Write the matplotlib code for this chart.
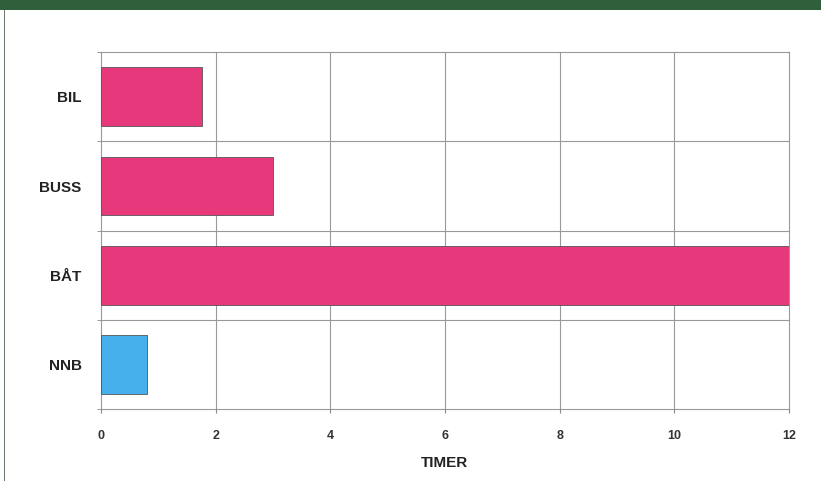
import matplotlib.pyplot as plt
from matplotlib.patches import Rectangle

categories = ["BIL", "BUSS", "BÅT", "NNB"]
hours = [1.76, 3.0, 12.0, 0.8]
colors = ["#e8387c", "#e8387c", "#e8387c", "#45b0ec"]
xticks = [0, 2, 4, 6, 8, 10, 12]

plt.rcParams["font.family"] = ["Liberation Sans", "DejaVu Sans"]

fig = plt.figure(figsize=(8.21, 4.96), dpi=100)
fig.patch.set_facecolor("white")

# green band on top and thin frame on the left
fig.add_artist(Rectangle((0, 0.98), 1, 0.02, transform=fig.transFigure,
                         facecolor="#2f5f3b", edgecolor="none"))
fig.add_artist(Rectangle((0.005, 0.03), 0.0015, 0.95, transform=fig.transFigure,
                         facecolor="#6a7a6a", edgecolor="none"))

ax = fig.add_axes([0.123, 0.175, 0.838, 0.72])
ypos = list(range(len(categories)))
ax.barh(ypos, hours, height=0.66, color=colors, edgecolor="#555555", linewidth=0.6,
        zorder=3)

ax.set_xlim(0, 12)
ax.set_ylim(len(categories) - 0.5, -0.5)
ax.set_xticks(xticks)
ax.set_xticklabels([str(t) for t in xticks], fontsize=9, fontweight="bold", color="#333333")
ax.set_yticks(ypos)
ax.set_yticklabels(categories, fontsize=11, fontweight="bold", color="#222222")
ax.tick_params(axis="y", length=0, pad=14)
ax.tick_params(axis="x", length=3, color="#888888", pad=12)

edges = [y - 0.5 for y in ypos] + [len(categories) - 0.5]
ax.set_yticks(edges, minor=True)
ax.tick_params(axis="y", which="minor", length=3, color="#888888")

# grid drawn by hand so the outer lines are not clipped
for t in xticks:
    ax.axvline(t, color="#999999", linewidth=0.8, zorder=1, clip_on=False)
for e in edges:
    ax.axhline(e, color="#999999", linewidth=0.8, zorder=1, clip_on=False)
for s in ax.spines.values():
    s.set_visible(False)

ax.set_xlabel("TIMER", fontsize=11, fontweight="bold", color="#222222", labelpad=10)

fig.savefig("out.png", dpi=100)
